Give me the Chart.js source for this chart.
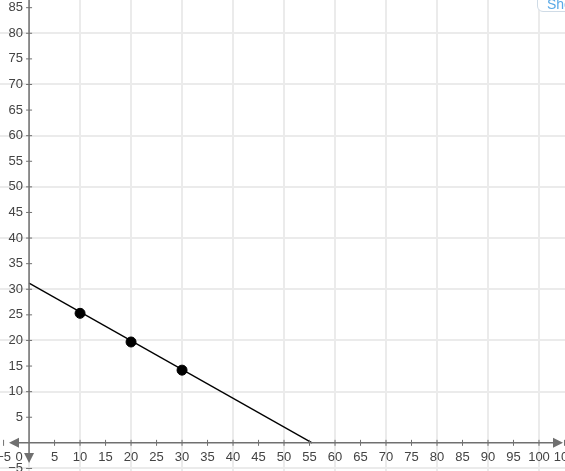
<!DOCTYPE html>
<html>
<head>
<meta charset="utf-8">
<script src="https://cdn.jsdelivr.net/npm/chart.js@4/dist/chart.umd.min.js"></script>
<style>
  body { margin: 0; background: #fff; overflow: hidden; }
  #wrap { position: relative; width: 565px; height: 471px; overflow: hidden; }
  #show {
    position: absolute; left: 537px; top: -10px; width: 70px; height: 22px;
    border: 1px solid #cfdbe6; border-radius: 6px; background: #fff;
    font: 14px "Liberation Sans", Arial, sans-serif; color: #5aa9e6;
    padding: 6px 0 0 9px; box-sizing: border-box; line-height: 14px;
  }
</style>
</head>
<body>
<div id="wrap">
  <canvas id="chart" width="565" height="471"></canvas>
  <div id="show">Show</div>
</div>
<script>
// points
const pointX = [10, 20, 30];
const pointY = [25.3, 19.7, 14.2];
// fitted line, from the y axis down to the x axis
const lineX = [0, 55.5];
const lineY = [31.2, 0];
// axis tick labels
const xTicks = [-5, 0, 5, 10, 15, 20, 25, 30, 35, 40, 45, 50, 55, 60, 65, 70, 75, 80, 85, 90, 95, 100, 105];
const yTicks = [-5, 5, 10, 15, 20, 25, 30, 35, 40, 45, 50, 55, 60, 65, 70, 75, 80, 85];
const xGrid = [0, 10, 20, 30, 40, 50, 60, 70, 80, 90, 100];
const yGrid = [-5, 10, 20, 30, 40, 50, 60, 70, 80];

const axisColor = "#707070";
const labelColor = "#444";

const axesPlugin = {
  id: "axes",
  afterDatasetsDraw(chart) {
    const ctx = chart.ctx;
    const xs = chart.scales.x, ys = chart.scales.y;
    const x0 = xs.getPixelForValue(0), y0 = ys.getPixelForValue(0);
    const left = chart.chartArea.left, right = chart.chartArea.right;
    const top = chart.chartArea.top;
    ctx.save();
    ctx.strokeStyle = axisColor;
    ctx.fillStyle = axisColor;
    ctx.lineWidth = 1.5;
    // x axis
    ctx.beginPath();
    ctx.moveTo(left + 12, y0);
    ctx.lineTo(right - 6, y0);
    ctx.stroke();
    // y axis
    ctx.beginPath();
    ctx.moveTo(x0, top);
    ctx.lineTo(x0, 458);
    ctx.stroke();
    // arrows
    ctx.beginPath();
    ctx.moveTo(left + 9, y0);
    ctx.lineTo(left + 19, y0 - 5);
    ctx.lineTo(left + 19, y0 + 5);
    ctx.fill();
    ctx.beginPath();
    ctx.moveTo(right - 2, y0);
    ctx.lineTo(right - 12, y0 - 5);
    ctx.lineTo(right - 12, y0 + 5);
    ctx.fill();
    ctx.beginPath();
    ctx.moveTo(x0, 463);
    ctx.lineTo(x0 - 5, 453);
    ctx.lineTo(x0 + 5, 453);
    ctx.fill();
    // tick marks
    ctx.lineWidth = 1;
    xTicks.forEach(v => {
      if (v === 0) return;
      const px = xs.getPixelForValue(v);
      ctx.beginPath();
      ctx.moveTo(px, y0 - 3);
      ctx.lineTo(px, y0 + 3);
      ctx.stroke();
    });
    yTicks.forEach(v => {
      const py = ys.getPixelForValue(v);
      ctx.beginPath();
      ctx.moveTo(x0 - 3, py);
      ctx.lineTo(x0 + 3, py);
      ctx.stroke();
    });
    // labels
    ctx.fillStyle = labelColor;
    ctx.font = '13px "Liberation Sans", Arial, sans-serif';
    ctx.textBaseline = "middle";
    xTicks.forEach(v => {
      if (v < 0) {
        // digits centred on the tick, minus hanging to the left
        ctx.textAlign = "right";
        ctx.fillText("\u2212" + (-v), xs.getPixelForValue(v) + 7.5, y0 + 15);
        return;
      }
      ctx.textAlign = "center";
      const px = v === 0 ? x0 - 10 : xs.getPixelForValue(v);
      ctx.fillText(String(v), px, y0 + 15);
    });
    ctx.textAlign = "right";
    yTicks.forEach(v => {
      const py = ys.getPixelForValue(v);
      ctx.fillText(v < 0 ? "\u2212" + (-v) : String(v), x0 - 6, py);
    });
    ctx.restore();
  }
};

new Chart(document.getElementById("chart").getContext("2d"), {
  type: "scatter",
  data: {
    datasets: [
      {
        type: "line",
        data: lineX.map((x, i) => ({ x: x, y: lineY[i] })),
        borderColor: "#000",
        borderWidth: 1.3,
        pointRadius: 0,
        fill: false,
        tension: 0,
      },
      {
        data: pointX.map((x, i) => ({ x: x, y: pointY[i] })),
        backgroundColor: "#000",
        borderColor: "#000",
        pointRadius: 5,
      },
    ],
  },
  options: {
    responsive: false,
    animation: false,
    layout: { padding: 0, autoPadding: false },
    scales: {
      x: {
        type: "linear",
        min: -5.7,
        max: 105.1,
        afterBuildTicks: s => { s.ticks = xGrid.map(v => ({ value: v })); },
        ticks: { display: false },
        border: { display: false },
        grid: { color: "#ebebeb", lineWidth: 2, drawTicks: false },
      },
      y: {
        type: "linear",
        min: -5.5,
        max: 86.5,
        afterBuildTicks: s => { s.ticks = yGrid.map(v => ({ value: v })); },
        ticks: { display: false },
        border: { display: false },
        grid: { color: "#ebebeb", lineWidth: 2, drawTicks: false },
      },
    },
    plugins: {
      legend: { display: false },
      tooltip: { enabled: false },
    },
  },
  plugins: [axesPlugin],
});
</script>
</body>
</html>
